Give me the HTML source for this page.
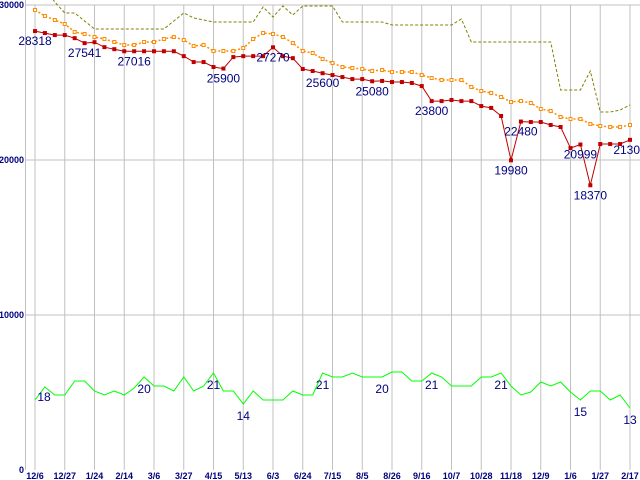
<!DOCTYPE html>
<html><head><meta charset="utf-8"><style>
html,body{margin:0;padding:0;background:#fff;}
svg{display:block;}
.ax{font-family:"Liberation Sans",sans-serif;font-size:9px;font-weight:bold;fill:#000080;}
.lb{font-family:"Liberation Sans",sans-serif;font-size:12px;fill:#000080;}
</style></head><body>
<svg id="chart" width="640" height="480" viewBox="0 0 640 480" xmlns="http://www.w3.org/2000/svg"></svg>
<script>
const xLabels=["12/6","12/27","1/24","2/14","3/6","3/27","4/15","5/13","6/3","6/24","7/15","8/5","8/26","9/16","10/7","10/28","11/18","12/9","1/6","1/27","2/17"];
const yTicks=[0,10000,20000,30000];
const priceSeries=[28318,28190,28060,28060,27860,27541,27600,27280,27150,27016,27016,27016,27016,27016,27016,26700,26320,26320,26000,25900,26640,26700,26700,26700,27270,26700,26570,25870,25740,25600,25480,25350,25220,25220,25080,25100,25030,25030,24970,24770,23800,23800,23870,23800,23800,23480,23360,22840,19980,22480,22450,22450,22260,22130,20770,20999,18370,21030,21030,21030,21300];
const avgSeries=[29677,29290,29032,28774,28258,28129,27935,27806,27613,27419,27419,27613,27613,27806,27935,27742,27355,27419,27032,27032,27032,27226,27806,28194,28129,27935,27548,27032,26903,26516,26258,26000,25935,25871,25742,25806,25677,25677,25677,25484,25290,25161,25161,25161,24710,24452,24323,24065,23742,23806,23677,23290,23161,22774,22645,22645,22323,22194,22129,22129,22258];
const highSeries=[31935,31097,30194,29484,29484,28968,28452,28452,28452,28452,28452,28452,28452,28452,28968,29484,29161,29032,28903,28903,28903,28903,28903,29871,29226,29935,29355,29935,29935,29935,29935,28903,28903,28903,28903,28903,28710,28710,28710,28710,28710,28710,28710,29097,27613,27613,27613,27613,27613,27613,27613,27613,27613,24516,24516,24516,25742,23097,23097,23226,23548];
const countSeries=[4516,5355,4839,4839,5742,5742,5097,4839,5097,4839,5290,6000,5419,5419,5097,6000,5097,5419,6258,5097,5097,4258,5097,4516,4516,4516,5097,4839,4839,6258,6000,6000,6258,6000,6000,6000,6323,6323,5742,5742,6258,6000,5419,5419,5419,6000,6000,6258,5419,4839,5032,5677,5419,5677,5032,4516,5097,5097,4516,4839,4000];
const priceLabelIdx=[0,5,10,19,24,29,34,40,48,49,55,56,60];
const priceLabelText=["28318","27541","27016","25900","27270","25600","25080","23800","19980","22480","20999","18370","21300"];
const countLabelIdx=[0,11,18,21,29,35,40,47,55,60];
const countLabelText=["18","20","21","14","21","20","21","21","15","13"];

const svg=document.getElementById('chart');
const NS='http://www.w3.org/2000/svg';
const x0=35,x1=630,yTop=5,yBot=470,vMax=30000;
const N=priceSeries.length;
const xPt=i=>x0+(x1-x0)*i/(N-1);
const xLab=i=>x0+(x1-x0)*i/(xLabels.length-1);
const yv=v=>yBot-(yBot-yTop)*v/vMax;
function mk(tag,attrs,parent){const e=document.createElementNS(NS,tag);for(const k in attrs)e.setAttribute(k,attrs[k]);(parent||svg).appendChild(e);return e;}

const clip=mk('clipPath',{id:'pc'});mk('rect',{x:25,y:0,width:615,height:yBot},clip);

const grid=mk('g',{});


yTicks.forEach(t=>{
  if(t>0){const l=mk('line',{x1:25,x2:640,y1:yv(t),y2:yv(t),stroke:'#c0c0c0','stroke-width':1},grid);
  
  }
  const tx=mk('text',{x:24,y:yv(t)+3,'text-anchor':'end',class:'ax'});
  
  
  tx.textContent=t;
});
xLabels.forEach((s,i)=>{
  const l=mk('line',{x1:xLab(i),x2:xLab(i),y1:yTop,y2:yBot,stroke:'#c0c0c0','stroke-width':1},grid);
  
  
  const tx=mk('text',{x:xLab(i),y:479,'text-anchor':'middle',class:'ax'});
  
  
  tx.textContent=s;
});
const yax=mk('line',{x1:25.5,x2:25.5,y1:0,y2:yBot,stroke:'#c0c0c0','stroke-width':1});



function pts(arr){return arr.map((v,i)=>xPt(i).toFixed(1)+','+yv(v).toFixed(1)).join(' ');}
const high=mk('polyline',{points:pts(highSeries),fill:'none',stroke:'#808000','stroke-width':1,'stroke-dasharray':'3,2','clip-path':'url(#pc)'});


const avg=mk('polyline',{points:pts(avgSeries),fill:'none',stroke:'#ff8c00','stroke-width':1.5,'stroke-dasharray':'2,2'});


avgSeries.forEach((v,i)=>{const r=mk('rect',{x:xPt(i)-1.5,y:yv(v)-1.5,width:3,height:3,fill:'#fff',stroke:'#ff8c00','stroke-width':1});
  
  });
const price=mk('polyline',{points:pts(priceSeries),fill:'none',stroke:'#c00000','stroke-width':1});


priceSeries.forEach((v,i)=>{const r=mk('rect',{x:xPt(i)-2,y:yv(v)-2,width:4,height:4,fill:'#c00000'});
  
  });
const cnt=mk('polyline',{points:pts(countSeries),fill:'none',stroke:'#00ff00','stroke-width':1});



priceLabelIdx.forEach((idx,k)=>{
  const tx=mk('text',{x:xPt(idx),y:yv(priceSeries[idx])+14,'text-anchor':'middle',class:'lb'});
  
  
  tx.textContent=priceLabelText[k];
});
countLabelIdx.forEach((idx,k)=>{
  const first=idx===0;
  const tx=mk('text',{x:xPt(idx)+(first?9:0),y:yv(countSeries[idx])+(first?1:16),'text-anchor':'middle',class:'lb'});
  
  
  tx.textContent=countLabelText[k];
});
</script>
</body></html>
